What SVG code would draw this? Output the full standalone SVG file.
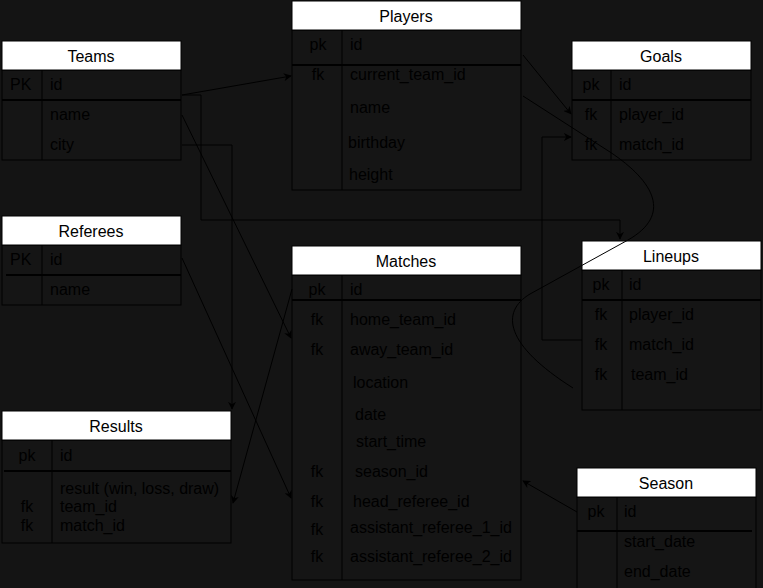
<svg xmlns="http://www.w3.org/2000/svg" width="763" height="588" viewBox="0 0 763 588">
<defs>
<marker id="ah" viewBox="0 0 10 10" refX="9" refY="5" markerWidth="8" markerHeight="8" markerUnits="userSpaceOnUse" orient="auto"><path d="M0,0 L10,5 L0,10 L3,5 Z" fill="#000"/></marker>
<style>
.hd{fill:#fff;stroke:#000;stroke-width:1}
.bd{fill:#151515;stroke:#000;stroke-width:1}
.ln{stroke:#000;stroke-width:1;fill:none}
.sp{stroke:#000;stroke-width:2;fill:none}
.ht{font-family:"Liberation Sans",Arial,sans-serif;font-size:16px;fill:#000;text-anchor:middle}
.t{font-family:"Liberation Sans",Arial,sans-serif;font-size:16px;fill:#000}
.c{text-anchor:middle}
.cn{stroke:#000;stroke-width:1;fill:none}
</style>
</defs>
<rect width="763" height="588" fill="#141414"/>
<g id="teams">
<rect class="bd" x="2" y="70" width="179" height="90"/>
<rect class="hd" x="2" y="41" width="179" height="29"/>
<text class="ht" x="91" y="62">Teams</text>
<line class="ln" x1="42" y1="70" x2="42" y2="160"/>
<line class="sp" x1="2" y1="100" x2="181" y2="100"/>
<text class="t" x="10" y="90">PK</text><text class="t" x="50" y="90">id</text>
<text class="t" x="50" y="120">name</text>
<text class="t" x="50" y="150">city</text>
</g>
<g id="players">
<rect class="bd" x="292" y="30" width="229" height="160"/>
<rect class="hd" x="292" y="1" width="229" height="29"/>
<text class="ht" x="406" y="22">Players</text>
<line class="ln" x1="342" y1="30" x2="342" y2="190"/>
<line class="sp" x1="292" y1="65" x2="521" y2="65"/>
<text class="t c" x="318" y="50">pk</text><text class="t" x="350" y="50">id</text>
<text class="t c" x="318" y="80">fk</text><text class="t" x="350" y="80">current_team_id</text>
<text class="t" x="350" y="113">name</text>
<text class="t" x="348" y="148">birthday</text>
<text class="t" x="349" y="180">height</text>
</g>
<g id="goals">
<rect class="bd" x="572" y="70" width="179" height="90"/>
<rect class="hd" x="572" y="41" width="179" height="29"/>
<text class="ht" x="661" y="62">Goals</text>
<line class="ln" x1="611" y1="70" x2="611" y2="160"/>
<line class="sp" x1="572" y1="100" x2="751" y2="100"/>
<text class="t c" x="591" y="90">pk</text><text class="t" x="619" y="90">id</text>
<text class="t c" x="591" y="120">fk</text><text class="t" x="619" y="120">player_id</text>
<text class="t c" x="591" y="150">fk</text><text class="t" x="619" y="150">match_id</text>
</g>
<g id="referees">
<rect class="bd" x="2" y="245" width="179" height="60"/>
<rect class="hd" x="2" y="216" width="179" height="29"/>
<text class="ht" x="91" y="237">Referees</text>
<line class="ln" x1="42" y1="245" x2="42" y2="305"/>
<line class="sp" x1="6" y1="275" x2="181" y2="275"/>
<text class="t" x="10" y="265">PK</text><text class="t" x="50" y="265">id</text>
<text class="t" x="50" y="295">name</text>
</g>
<g id="matches">
<rect class="bd" x="292" y="275" width="229" height="305"/>
<rect class="hd" x="292" y="246" width="229" height="29"/>
<text class="ht" x="406" y="267">Matches</text>
<line class="ln" x1="342" y1="275" x2="342" y2="580"/>
<line class="sp" x1="292" y1="300" x2="521" y2="300"/>
<text class="t c" x="317" y="295">pk</text><text class="t" x="350" y="295">id</text>
<text class="t c" x="317" y="325">fk</text><text class="t" x="350" y="325">home_team_id</text>
<text class="t c" x="317" y="355">fk</text><text class="t" x="350" y="355">away_team_id</text>
<text class="t" x="353" y="388">location</text>
<text class="t" x="355" y="420">date</text>
<text class="t" x="356" y="447">start_time</text>
<text class="t c" x="317" y="477">fk</text><text class="t" x="355" y="477">season_id</text>
<text class="t c" x="317" y="507">fk</text><text class="t" x="353" y="507">head_referee_id</text>
<text class="t c" x="317" y="535">fk</text><text class="t" x="350" y="533">assistant_referee_1_id</text>
<text class="t c" x="317" y="562">fk</text><text class="t" x="350" y="562">assistant_referee_2_id</text>
</g>
<g id="lineups">
<rect class="bd" x="582" y="270" width="179" height="140"/>
<rect class="hd" x="582" y="241" width="179" height="29"/>
<text class="ht" x="671" y="262">Lineups</text>
<line class="ln" x1="622" y1="270" x2="622" y2="410"/>
<line class="sp" x1="582" y1="300" x2="761" y2="300"/>
<text class="t c" x="601" y="290">pk</text><text class="t" x="629" y="290">id</text>
<text class="t c" x="601" y="320">fk</text><text class="t" x="629" y="320">player_id</text>
<text class="t c" x="601" y="350">fk</text><text class="t" x="629" y="350">match_id</text>
<text class="t c" x="601" y="380">fk</text><text class="t" x="631" y="380">team_id</text>
</g>
<g id="results">
<rect class="bd" x="2" y="440" width="229" height="103"/>
<rect class="hd" x="2" y="411" width="229" height="29"/>
<text class="ht" x="116" y="432">Results</text>
<line class="ln" x1="52" y1="440" x2="52" y2="543"/>
<line class="sp" x1="4" y1="471" x2="231" y2="471"/>
<text class="t c" x="27" y="461">pk</text><text class="t" x="60" y="461">id</text>
<text class="t" x="60" y="494">result (win, loss, draw)</text>
<text class="t c" x="27" y="512">fk</text><text class="t" x="60" y="512">team_id</text>
<text class="t c" x="27" y="531">fk</text><text class="t" x="60" y="531">match_id</text>
</g>
<g id="season">
<rect class="bd" x="577" y="497" width="179" height="95"/>
<rect class="hd" x="577" y="468" width="179" height="29"/>
<text class="ht" x="666" y="489">Season</text>
<line class="ln" x1="617" y1="497" x2="617" y2="588"/>
<line class="sp" x1="577" y1="531" x2="752" y2="531"/>
<text class="t c" x="596" y="517">pk</text><text class="t" x="624" y="517">id</text>
<text class="t" x="624" y="547">start_date</text>
<text class="t" x="624" y="577">end_date</text>
</g>
<g id="connectors">
<path class="cn" d="M182 95 L291 76" marker-end="url(#ah)"/>
<path class="cn" d="M182 95 L201 95 L201 220 L620 220 L620 239" marker-end="url(#ah)"/>
<path class="cn" d="M182 145 L232 145 L232 409" marker-end="url(#ah)"/>
<path class="cn" d="M182 115 L291 338" marker-end="url(#ah)"/>
<path class="cn" d="M182 258 L291 498" marker-end="url(#ah)"/>
<path class="cn" d="M292 289 L233 503" marker-end="url(#ah)"/>
<path class="cn" d="M523 55 L571 114" marker-end="url(#ah)"/>
<path class="cn" d="M523 96 L610 152 C655 182 672 215 628 240 L530 294 C500 312 505 345 573 388"/>
<path class="cn" d="M582 340 L542 340 L542 137 L571 137" marker-end="url(#ah)"/>
<path class="cn" d="M577 512 L523 481" marker-end="url(#ah)"/>
</g>
</svg>
